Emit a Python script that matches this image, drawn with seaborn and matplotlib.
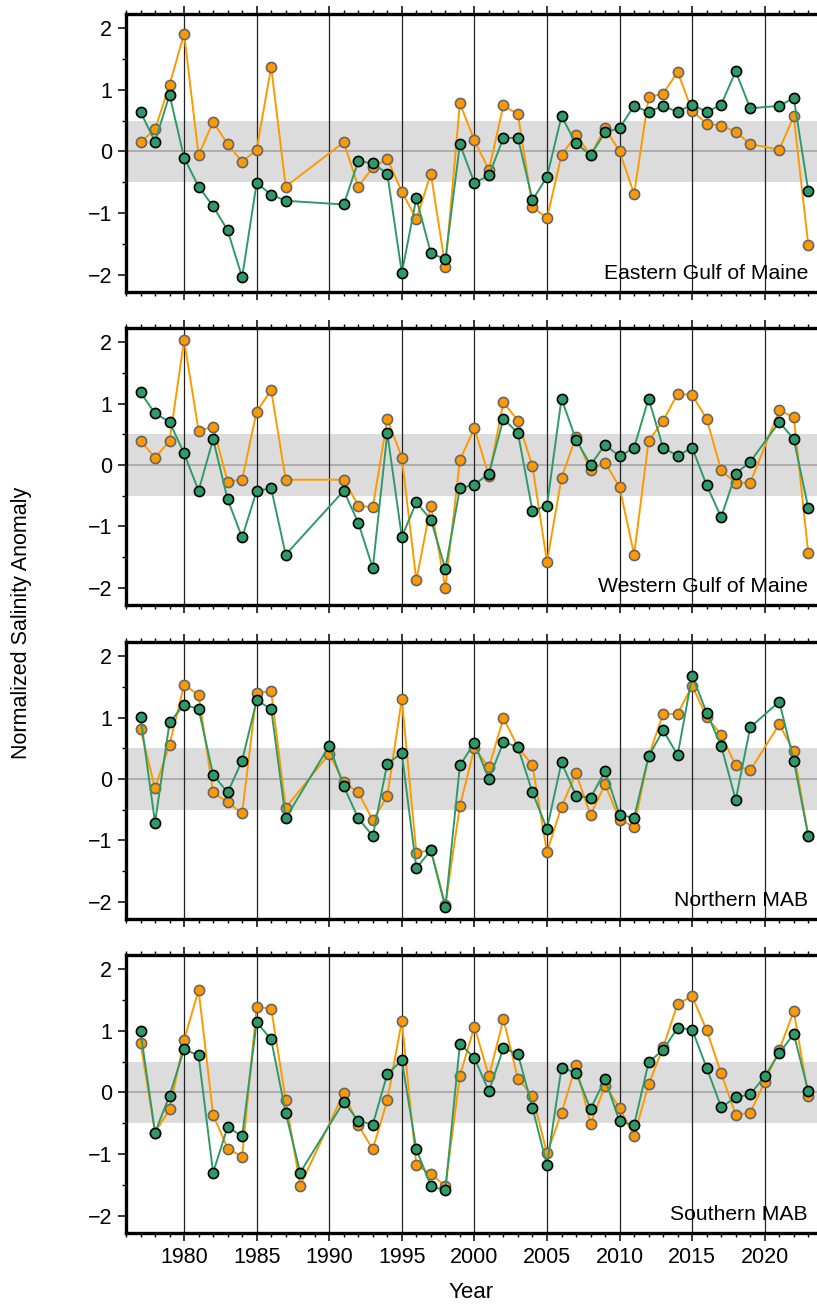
import numpy as np
import pandas as pd
import seaborn as sns
import matplotlib.pyplot as plt
from matplotlib.ticker import MultipleLocator

nan = np.nan
years = list(range(1977, 2024))

regions = ['Eastern Gulf of Maine', 'Western Gulf of Maine', 'Northern MAB', 'Southern MAB']

# orange series (one per region), 1977..2023
egom_orange = [0.15, 0.36, 1.08, 1.91, -0.06, 0.48, 0.12, -0.17, 0.03, 1.37, -0.57, nan, nan, nan,
               0.15, -0.57, -0.26, -0.12, -0.65, -1.10, -0.36, -1.88, 0.78,
               0.18, -0.30, 0.75, 0.60, -0.90, -1.08, -0.06, 0.27, -0.06, 0.38, 0.00, -0.69,
               0.88, 0.94, 1.29, 0.66, 0.45, 0.42, 0.32, 0.12, nan, 0.03, 0.57, -1.52]
wgom_orange = [0.39, 0.12, 0.39, 2.03, 0.56, 0.62, -0.27, -0.24, 0.87, 1.22, -0.24, nan, nan, nan,
               -0.24, -0.66, -0.69, 0.75, 0.12, -1.88, -0.66, -2.00, 0.08,
               0.60, -0.18, 1.02, 0.72, -0.02, -1.58, -0.21, 0.46, -0.09, 0.04, -0.36, -1.46,
               0.39, 0.72, 1.16, 1.14, 0.75, -0.09, -0.29, -0.29, nan, 0.89, 0.78, -1.44]
nmab_orange = [0.81, -0.15, 0.56, 1.53, 1.37, -0.22, -0.38, -0.56, 1.40, 1.43, -0.47, nan, nan, 0.41,
               -0.05, -0.22, -0.67, -0.28, 1.30, -1.20, -1.16, -2.05, -0.44,
               0.50, 0.19, 0.99, 0.52, 0.22, -1.19, -0.45, 0.09, -0.58, -0.09, -0.66, -0.78,
               0.37, 1.06, 1.06, 1.52, 1.01, 0.72, 0.22, 0.14, nan, 0.89, 0.45, -0.93]
smab_orange = [0.80, -0.65, -0.27, 0.85, 1.66, -0.36, -0.91, -1.04, 1.39, 1.36, -0.12, -1.51, nan, nan,
               -0.01, -0.53, -0.92, -0.13, 1.16, -1.18, -1.32, -1.52, 0.27,
               1.07, 0.26, 1.19, 0.22, -0.05, -0.99, -0.33, 0.44, -0.51, 0.11, -0.25, -0.71,
               0.13, 0.73, 1.44, 1.56, 1.01, 0.31, -0.36, -0.33, 0.17, 0.69, 1.32, -0.06]

# green series (one per region), 1977..2023
egom_green = [0.64, 0.16, 0.92, -0.10, -0.57, -0.89, -1.28, -2.04, -0.51, -0.70, -0.80, nan, nan, nan,
              -0.86, -0.16, -0.19, -0.36, -1.97, -0.76, -1.65, -1.75, 0.12,
              -0.51, -0.39, 0.22, 0.22, -0.79, -0.41, 0.57, 0.13, -0.06, 0.31, 0.38, 0.74,
              0.64, 0.74, 0.64, 0.76, 0.64, 0.76, 1.30, 0.70, nan, 0.74, 0.87, -0.64]
wgom_green = [1.18, 0.84, 0.70, 0.19, -0.42, 0.42, -0.56, -1.18, -0.42, -0.38, -1.46, nan, nan, nan,
              -0.42, -0.94, -1.68, 0.52, -1.17, -0.61, -0.89, -1.69, -0.38,
              -0.32, -0.14, 0.75, 0.52, -0.75, -0.66, 1.08, 0.41, 0.00, 0.33, 0.14, 0.28,
              1.08, 0.28, 0.15, 0.28, -0.33, -0.85, -0.14, 0.05, nan, 0.70, 0.42, -0.70]
nmab_green = [1.01, -0.71, 0.92, 1.21, 1.14, 0.07, -0.22, 0.30, 1.28, 1.14, -0.64, nan, nan, 0.54,
              -0.12, -0.64, -0.93, 0.25, 0.42, -1.45, -1.16, -2.09, 0.22,
              0.59, 0.00, 0.60, 0.52, -0.22, -0.81, 0.27, -0.27, -0.31, 0.13, -0.59, -0.63,
              0.37, 0.79, 0.39, 1.68, 1.08, 0.54, -0.34, 0.84, nan, 1.26, 0.30, -0.93]
smab_green = [0.99, -0.65, -0.05, 0.70, 0.60, -1.30, -0.56, -0.71, 1.14, 0.86, -0.33, -1.30, nan, nan,
              -0.15, -0.46, -0.52, 0.30, 0.52, -0.92, -1.52, -1.59, 0.79,
              0.56, 0.02, 0.72, 0.62, -0.25, -1.18, 0.40, 0.32, -0.27, 0.22, -0.47, -0.53,
              0.49, 0.69, 1.05, 1.02, 0.40, -0.24, -0.08, -0.03, 0.26, 0.64, 0.95, 0.02]

orange_series = [egom_orange, wgom_orange, nmab_orange, smab_orange]
green_series = [egom_green, wgom_green, nmab_green, smab_green]

ORANGE = '#FF9900'
GREEN = '#2E9A68'

sns.set_theme(style='white')
plt.rcParams['font.family'] = ['Liberation Sans', 'DejaVu Sans']
plt.rcParams['font.size'] = 15
plt.rcParams['text.color'] = 'black'
plt.rcParams['axes.labelcolor'] = 'black'

fig = plt.figure(figsize=(8.17, 13.06), dpi=100)
W, H = 817, 1306
left_px, right_px = 126, 817
panels_px = [(14, 292), (328, 605), (642, 919), (955, 1233)]

for i, (region, orange, green) in enumerate(zip(regions, orange_series, green_series)):
    top, bottom = panels_px[i]
    ax = fig.add_axes([left_px / W, 1 - bottom / H, (right_px - left_px) / W, (bottom - top) / H])

    ax.axhspan(-0.5, 0.5, color='#DCDCDC', lw=0, zorder=0)
    ax.axhline(0, color='#AAAAAA', lw=1.3, zorder=1)
    for yr in range(1980, 2025, 5):
        ax.axvline(yr, color='#222222', lw=0.9, zorder=1)

    df = pd.DataFrame({'year': years, 'orange': orange, 'green': green})
    d_o = df[['year', 'orange']].dropna()
    d_g = df[['year', 'green']].dropna()
    sns.lineplot(data=d_o, x='year', y='orange', ax=ax, color=ORANGE, lw=1.4, marker='o',
                 markersize=7.3, markerfacecolor=ORANGE, markeredgecolor='#666666',
                 markeredgewidth=1.2, zorder=3)
    sns.lineplot(data=d_g, x='year', y='green', ax=ax, color=GREEN, lw=1.4, marker='o',
                 markersize=7.3, markerfacecolor=GREEN, markeredgecolor='black',
                 markeredgewidth=1.2, zorder=4)

    ax.set_xlim(1976, 2023.6)
    ax.set_ylim(-2.28, 2.23)
    ax.set_ylabel('')
    ax.set_xlabel('')

    ax.xaxis.set_major_locator(MultipleLocator(5))
    ax.xaxis.set_minor_locator(MultipleLocator(1))
    ax.yaxis.set_major_locator(MultipleLocator(1))
    ax.yaxis.set_minor_locator(MultipleLocator(0.5))
    ax.tick_params(axis='both', which='major', direction='out', length=6, width=1.1, color='black',
                   labelcolor='black', top=True, bottom=True, left=True, right=False,
                   labelsize=15.5, pad=4)
    ax.tick_params(axis='both', which='minor', direction='out', length=3, width=1.0, color='black',
                   top=True, bottom=True, left=True, right=False)
    ax.tick_params(axis='x', which='major', labelbottom=(i == 3), labeltop=False)

    for side in ['top', 'bottom', 'left']:
        ax.spines[side].set_linewidth(2.4)
        ax.spines[side].set_color('black')
    ax.spines['right'].set_visible(False)

    ax.text(0.987, 0.047, region, transform=ax.transAxes, ha='right', va='baseline',
            fontsize=15.2, color='black', zorder=5)

    if i == 3:
        ax.set_xlabel('Year', fontsize=16, labelpad=10, color='black')

fig.text(22 / W, 1 - 623 / H, 'Normalized Salinity Anomaly', rotation=90,
         ha='center', va='center', fontsize=15.5, color='black')

fig.savefig('out.png', dpi=100)
